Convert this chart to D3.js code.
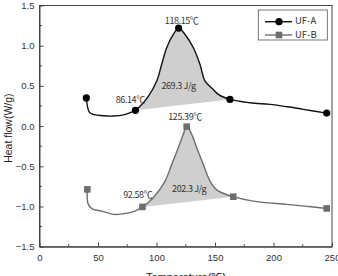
<!DOCTYPE html>
<html><head><meta charset="utf-8">
<script src="https://cdn.jsdelivr.net/npm/d3@7/dist/d3.min.js"></script>
<style>body{margin:0;background:#fff}svg{display:block}</style>
</head><body>
<svg id="c" width="338" height="276"></svg>
<script>
// UF-A curve samples (temperature, heat flow)
const tempA = [40, 42.7, 46, 55, 63, 72, 77.4, 82, 93, 100.2, 104.4, 108.7, 114.4, 118.9, 124.4, 131.5, 137.2, 141.5, 148.5, 152.8, 162.8, 180, 197, 212, 225.5, 245.5];
const flowA = [0.35, 0.17, 0.146, 0.128, 0.125, 0.14, 0.167, 0.196, 0.37, 0.56, 0.767, 0.975, 1.14, 1.219, 1.14, 0.975, 0.767, 0.56, 0.456, 0.394, 0.332, 0.29, 0.27, 0.24, 0.208, 0.162];
const markIdxA = [0, 7, 13, 20, 25];
// UF-B curve samples
const tempB = [40.9, 41.7, 46, 53.2, 63.1, 71.6, 81.6, 88, 97.3, 107.3, 113, 118.6, 122.9, 125.8, 130.1, 134.4, 140, 145.7, 152, 165.6, 182.7, 211.3, 230, 245.5];
const flowB = [-0.787, -0.974, -1.036, -1.057, -1.098, -1.09, -1.057, -1.005, -0.89, -0.684, -0.476, -0.269, -0.103, -0.007, -0.103, -0.269, -0.476, -0.684, -0.80, -0.878, -0.933, -0.974, -1.0, -1.024];
const markIdxB = [0, 7, 13, 19, 23];
const fillA = [7, 20];
const fillB = [7, 19];
const xTicks = [0, 50, 100, 150, 200, 250];
const yTicks = [-1.5, -1.0, -0.5, 0.0, 0.5, 1.0, 1.5];
const annotations = [
  {t: "118.15℃", x: 121.5, y: 1.30, a: "middle"},
  {t: "86.14℃", x: 90, y: 0.32, a: "end"},
  {t: "269.3 J/g", x: 118.8, y: 0.49, a: "middle"},
  {t: "125.39℃", x: 124.4, y: 0.104, a: "middle"},
  {t: "92.58℃", x: 96.4, y: -0.86, a: "end"},
  {t: "202.3 J/g", x: 127.9, y: -0.79, a: "middle"}
];
const seriesNames = ["UF-A", "UF-B"];

const svg = d3.select("#c");
const x = d3.scaleLinear().domain([0, 250]).range([39.5, 332]);
const y = d3.scaleLinear().domain([-1.5, 1.5]).range([246.7, 5.5]);
const ptsA = tempA.map((t, i) => [t, flowA[i]]);
const ptsB = tempB.map((t, i) => [t, flowB[i]]);
const line = d3.line().x(d => x(d[0])).y(d => y(d[1])).curve(d3.curveCatmullRom.alpha(0.5));

// fills
[[ptsA, fillA], [ptsB, fillB]].forEach(([p, f]) => {
  svg.append("path").attr("d", line(p.slice(f[0], f[1] + 1)) + "Z")
    .attr("fill", "#cfcfcf").attr("stroke", "none");
});

// axes frame
svg.append("rect").attr("x", x(0)).attr("y", y(1.5)).attr("width", x(250) - x(0)).attr("height", y(-1.5) - y(1.5))
  .attr("fill", "none").attr("stroke", "#444").attr("stroke-width", 1);
const xAxis = d3.axisBottom(x).tickValues(xTicks).tickSizeInner(-4).tickSizeOuter(0).tickPadding(8).tickFormat(d3.format("d"));
const xa = svg.append("g").attr("transform", `translate(0,${y(-1.5)})`).call(xAxis);
const yAxis = d3.axisLeft(y).tickValues(yTicks).tickSizeInner(-4).tickSizeOuter(0).tickPadding(5).tickFormat(d3.format(".1f"));
const ya = svg.append("g").attr("transform", `translate(${x(0)},0)`).call(yAxis);
[xa, ya].forEach(a => {
  a.select(".domain").attr("stroke", "#444");
  a.selectAll(".tick line").attr("stroke", "#444");
  a.selectAll("text").attr("font-family", "Liberation Sans, Arial, sans-serif").attr("font-size", 9.5).attr("fill", "#333");
});
// minor ticks
d3.range(25, 250, 50).forEach(v => svg.append("line").attr("x1", x(v)).attr("x2", x(v)).attr("y1", y(-1.5)).attr("y2", y(-1.5) - 2.5).attr("stroke", "#444"));
d3.range(-1.25, 1.5, 0.5).forEach(v => svg.append("line").attr("x1", x(0)).attr("x2", x(0) + 2.5).attr("y1", y(v)).attr("y2", y(v)).attr("stroke", "#444"));

// lines
svg.append("path").attr("d", line(ptsA)).attr("fill", "none").attr("stroke", "#111").attr("stroke-width", 1.4);
svg.append("path").attr("d", line(ptsB)).attr("fill", "none").attr("stroke", "#6e6e6e").attr("stroke-width", 1.4);
markIdxA.forEach(i => svg.append("circle").attr("cx", x(ptsA[i][0])).attr("cy", y(ptsA[i][1])).attr("r", 3.6).attr("fill", "#000"));
markIdxB.forEach(i => svg.append("rect").attr("x", x(ptsB[i][0]) - 3.3).attr("y", y(ptsB[i][1]) - 3.3).attr("width", 6.6).attr("height", 6.6).attr("fill", "#6e6e6e"));

// annotations
annotations.forEach(a => svg.append("text").attr("x", x(a.x)).attr("y", y(a.y)).attr("text-anchor", a.a)
  .attr("dominant-baseline", "middle").attr("font-family", "Noto Sans CJK KR, sans-serif").attr("font-size", 9)
  .attr("letter-spacing", -0.4).attr("fill", "#333").text(a.t));

// legend
svg.append("rect").attr("x", 258.3).attr("y", 10).attr("width", 69).attr("height", 30).attr("fill", "#fff").attr("stroke", "#555").attr("stroke-width", 0.8);
seriesNames.forEach((n, i) => {
  const ly = 21.7 + i * 13.3;
  const col = i === 0 ? "#111" : "#6e6e6e";
  svg.append("line").attr("x1", 265).attr("x2", 292).attr("y1", ly).attr("y2", ly).attr("stroke", col).attr("stroke-width", 1.4);
  if (i === 0) svg.append("circle").attr("cx", 279).attr("cy", ly).attr("r", 3.6).attr("fill", "#000");
  else svg.append("rect").attr("x", 279 - 3.3).attr("y", ly - 3.3).attr("width", 6.6).attr("height", 6.6).attr("fill", "#6e6e6e");
  svg.append("text").attr("x", 295).attr("y", ly).attr("dominant-baseline", "middle")
    .attr("font-family", "Noto Sans CJK KR, sans-serif").attr("font-size", 9.5).attr("fill", "#333").text(n);
});

// axis titles
svg.append("text").attr("transform", `translate(12,${y(0) + 2}) rotate(-90)`).attr("text-anchor", "middle")
  .attr("font-family", "Liberation Sans, Arial, sans-serif").attr("font-size", 10.5).attr("fill", "#222").text("Heat flow(W/g)");
svg.append("text").attr("x", 186).attr("y", 281).attr("text-anchor", "middle")
  .attr("font-family", "Liberation Sans, Arial, sans-serif").attr("font-size", 11).attr("fill", "#222").text("Temperature(℃)");
</script>
</body></html>
